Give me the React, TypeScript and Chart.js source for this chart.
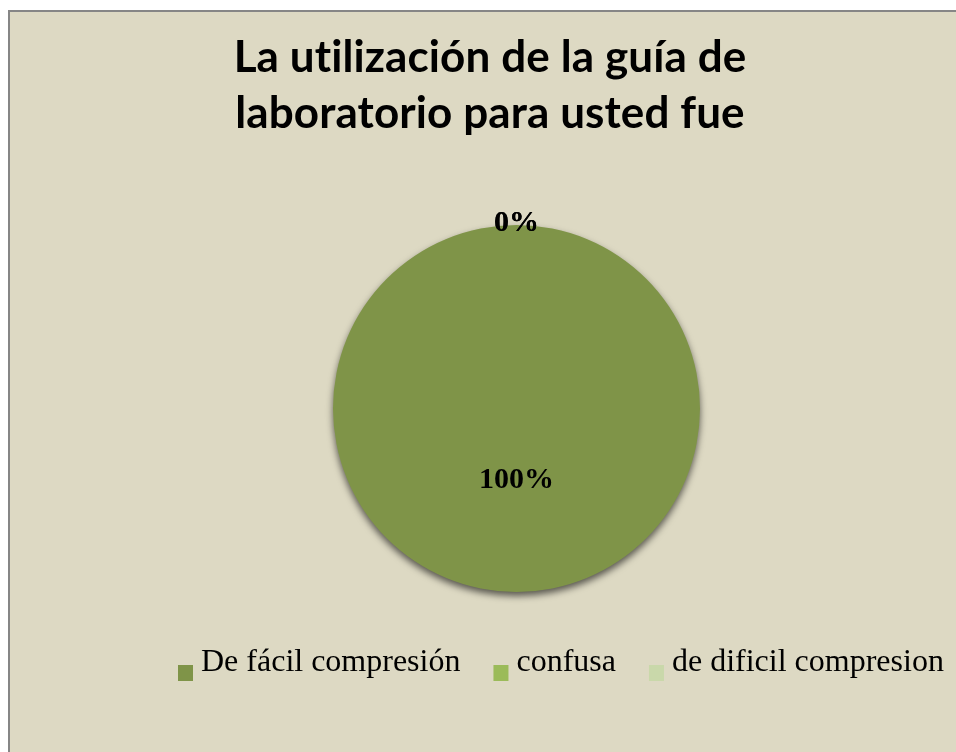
import React, { useEffect, useRef } from "react";
import { Chart, registerables } from "chart.js";

Chart.register(...registerables);

const titleLines = ["La utilización de la guía de", "laboratorio para usted fue"];
const categories = ["De fácil compresión", "confusa", "de dificil compresion"];
const values = [100, 0, 0];
const percentLabels = ["100%", "0%", "0%"];
const colors = ["#7F9448", "#9BBB59", "#C9D8AA"];

const W = 946;
const H = 740;

const shadowPlugin = {
  id: "pieShadow",
  beforeDatasetsDraw(chart: any) {
    const ctx = chart.ctx;
    ctx.save();
    ctx.shadowColor = "rgba(0,0,0,0.6)";
    ctx.shadowBlur = 7;
    ctx.shadowOffsetX = 0;
    ctx.shadowOffsetY = 4;
  },
  afterDatasetsDraw(chart: any) {
    chart.ctx.restore();
  },
};

const titlePlugin = {
  id: "customTitle",
  afterDraw(chart: any) {
    const ctx = chart.ctx;
    ctx.save();
    ctx.fillStyle = "#000000";
    ctx.font = "bold 44px Lato";
    (ctx as any).letterSpacing = "0.1px";
    ctx.textAlign = "center";
    ctx.textBaseline = "alphabetic";
    titleLines.forEach((line, i) => {
      ctx.fillText(line, 480, 60 + i * 56);
    });
    ctx.restore();
  },
};

const labelPlugin = {
  id: "pctLabels",
  afterDraw(chart: any) {
    const ctx = chart.ctx;
    const meta = chart.getDatasetMeta(0);
    ctx.save();
    ctx.fillStyle = "#000000";
    ctx.font = "bold 30px 'Liberation Serif'";
    ctx.textAlign = "center";
    ctx.textBaseline = "middle";
    meta.data.forEach((arc: any, i: number) => {
      const p = arc.getProps(["x", "y", "startAngle", "endAngle", "outerRadius"], true);
      const mid = (p.startAngle + p.endAngle) / 2;
      const v = chart.data.datasets[0].data[i];
      const dist = v === 0 ? p.outerRadius + 2 : p.outerRadius * 0.39;
      ctx.fillText(percentLabels[i], p.x + Math.cos(mid) * dist, p.y + Math.sin(mid) * dist);
    });
    ctx.restore();
  },
};

const legendPlugin = {
  id: "customLegend",
  afterDraw(chart: any) {
    const ctx = chart.ctx;
    const labels: string[] = chart.data.labels;
    const bg: string[] = chart.data.datasets[0].backgroundColor;
    ctx.save();
    ctx.font = "32px 'Liberation Serif'";
    ctx.textBaseline = "alphabetic";
    ctx.textAlign = "left";
    let x = 168;
    const baseline = 659;
    labels.forEach((lab, i) => {
      ctx.fillStyle = bg[i];
      ctx.fillRect(x, baseline - 6, 15, 16);
      x += 15 + 8;
      ctx.fillStyle = "#000000";
      ctx.fillText(lab, x, baseline);
      x += ctx.measureText(lab).width + 33;
    });
    ctx.restore();
  },
};

export default function App() {
  const ref = useRef<HTMLCanvasElement | null>(null);
  useEffect(() => {
    if (!ref.current) return;
    const chart = new Chart(ref.current, {
      type: "pie",
      data: {
        labels: categories,
        datasets: [
          {
            data: values,
            backgroundColor: colors,
            borderWidth: 0,
            hoverOffset: 0,
            offset: 0,
          },
        ],
      },
      options: {
        responsive: false,
        animation: false,
        events: [],
        layout: { padding: { left: 320, right: 253, top: 213, bottom: 160 } },
        plugins: {
          legend: { display: false },
          title: { display: false },
          tooltip: { enabled: false },
        },
      },
      plugins: [shadowPlugin, titlePlugin, labelPlugin, legendPlugin],
    } as any);
    return () => chart.destroy();
  }, []);
  return (
    <div
      style={{
        position: "absolute",
        left: 8,
        top: 10,
        width: 948,
        height: 742,
        boxSizing: "border-box",
        background: "#DDD9C3",
        borderLeft: "2px solid #868686",
        borderTop: "2px solid #868686",
        overflow: "hidden",
      }}
    >
      <canvas ref={ref} width={W} height={H} style={{ display: "block" }} />
    </div>
  );
}
